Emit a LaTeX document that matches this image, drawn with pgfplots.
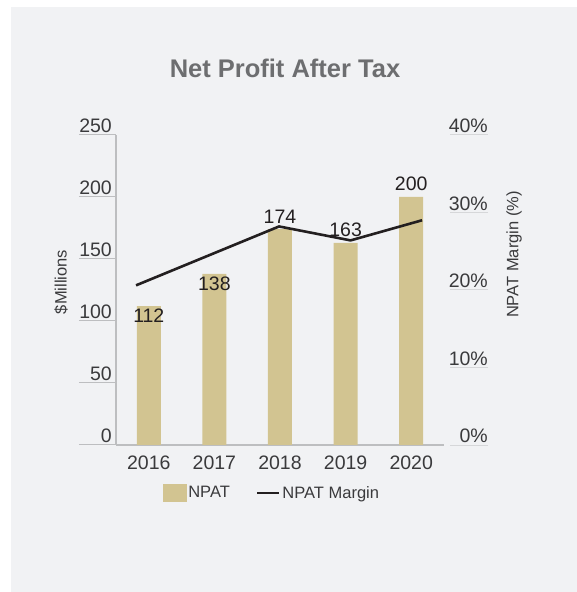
\documentclass[border=0pt]{standalone}
\usepackage{fontspec}
\setmainfont{Liberation Sans}
\usepackage{pgfplots}
\pgfplotsset{compat=1.18}
\definecolor{panel}{HTML}{F1F2F4}
\definecolor{bartan}{HTML}{D2C491}
\definecolor{linedark}{HTML}{231F20}
\definecolor{titlegray}{HTML}{6D6E70}
\definecolor{axisgray}{HTML}{BDBEC0}
\definecolor{rtick}{HTML}{D6D7D9}
\definecolor{txt}{HTML}{3A3A3C}
\begin{document}
\begin{tikzpicture}[x=1pt,y=1pt]
\fill[white] (0,0) rectangle (577,592);
\fill[panel] (11,0) rectangle (577,585);
\node[font=\fontsize{25.5}{30}\selectfont\bfseries, text=titlegray, anchor=base] at (285,514) {Net Profit After Tax};
\begin{axis}[
  scale only axis, width=328pt, height=310pt,
  at={(116pt,147pt)}, anchor=south west,
  xmin=-0.5, xmax=4.5, ymin=0, ymax=250,
  axis x line*=bottom, axis y line*=left,
  axis line style={-, axisgray, line width=1.3pt},
  xtick={0,1,2,3,4},
  xticklabels={2016,2017,2018,2019,2020},
  xtick style={draw=none},
  minor xtick={0.5,1.5,2.5,3.5,4.5},
  minor tick length=16pt,
  minor x tick style={axisgray, line width=1pt, yshift=16pt},
  ytick={0,50,...,250},
  tick align=outside, major tick length=37pt,
  ytick style={axisgray, line width=1pt},
  /pgf/number format/assume math mode=true,
  tick label style={font=\fontsize{19.5}{23}\selectfont, text=txt},
  yticklabel style={anchor=south east, inner sep=0pt, yshift=2pt, xshift=33pt},
  xticklabel style={anchor=north, inner sep=0pt, yshift=26pt},
  every axis y label/.style={at={(axis description cs:-0.1677,0.526)}, rotate=90, anchor=center, font=\fontsize{16.5}{20}\selectfont, text=txt},
  ylabel={\$Millions},
  clip=false,
]
\addplot[ybar, bar width=24pt, bar shift=0pt, fill=bartan, draw=none,
  nodes near coords,
  every node near coord/.append style={anchor=north, inner sep=3pt, font=\fontsize{19.5}{23}\selectfont, text=linedark}]
  coordinates {(0,112) (1,138)};
\addplot[ybar, bar width=24pt, bar shift=0pt, fill=bartan, draw=none,
  nodes near coords,
  every node near coord/.append style={anchor=south, inner sep=3pt, yshift=3pt, font=\fontsize{19.5}{23}\selectfont, text=linedark}]
  coordinates {(2,174) (3,163) (4,200)};
\end{axis}
\begin{axis}[
  scale only axis, width=334pt, height=310pt,
  at={(116pt,147pt)}, anchor=south west,
  xmin=-0.28, xmax=4.39, ymin=0, ymax=40,
  hide x axis,
  axis y line*=right,
  y axis line style={draw=none},
  ytick={0,10,20,30,40},
  tick align=outside, major tick length=38pt,
  ytick style={rtick, line width=1pt},
  /pgf/number format/assume math mode=true,
  yticklabel={\pgfmathprintnumber{\tick}\%},
  yticklabel style={anchor=south east, inner sep=0pt, yshift=2pt, font=\fontsize{19.5}{23}\selectfont, text=txt},
  every axis y label/.style={at={(axis description cs:1.1916,0.6145)}, rotate=90, anchor=center, font=\fontsize{16.5}{20}\selectfont, text=txt},
  ylabel={NPAT Margin (\%)},
  legend columns=2,
  legend style={at={(axis description cs:0.467,-0.155)}, anchor=center, draw=none, fill=none, font=\fontsize{16.5}{20}\selectfont, text=txt, /tikz/every even column/.append style={column sep=24pt}},
  clip=false,
]
\addlegendimage{legend image code/.code={\fill[bartan] (0pt,-8.5pt) rectangle (23pt,8.5pt);}}
\addlegendentry{NPAT}
\addplot[linedark, line width=2.6pt, legend image code/.code={\draw[linedark, line width=2.6pt] (0pt,0pt) -- (22pt,0pt);}]
  coordinates {(0,20.6) (1,24.4) (2,28.2) (3,26.4) (4,29.0)};
\addlegendentry{NPAT Margin}
\end{axis}
\end{tikzpicture}
\end{document}
